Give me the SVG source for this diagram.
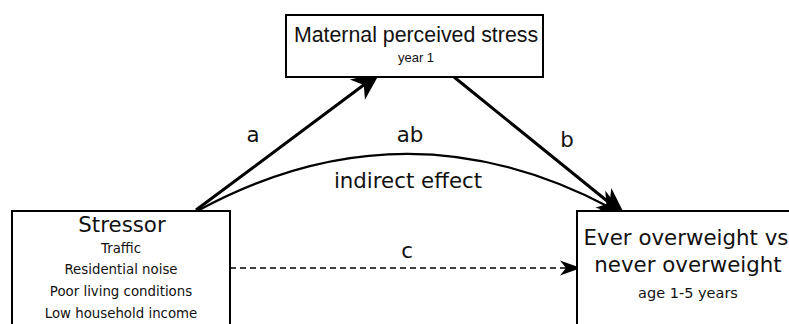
<svg xmlns="http://www.w3.org/2000/svg" width="789" height="324" viewBox="0 0 789 324">
<style>
.box{fill:#fff;stroke:#000;stroke-width:2}
.t{font-family:"DejaVu Sans",sans-serif;fill:#111;text-anchor:middle}
.ta{font-family:"Liberation Sans",Arial,sans-serif;fill:#111;text-anchor:middle}
.ln{fill:none;stroke:#000}
.lab{font-size:21.33px}
.sub{font-size:13.33px}
</style>
<defs>
<marker id="big" markerUnits="userSpaceOnUse" orient="auto" refX="0" refY="0" markerWidth="40" markerHeight="40" viewBox="-15 -15 30 30" overflow="visible">
<path d="M12,0 L-9,-9.5 L-3,0 L-9,9.5 Z" fill="#000"/>
</marker>
<marker id="small" markerUnits="userSpaceOnUse" orient="auto" refX="0" refY="0" markerWidth="30" markerHeight="30" viewBox="-10 -10 20 20" overflow="visible">
<path d="M8,0 L-6,-5 L-2,0 L-6,5 Z" fill="#000"/>
</marker>
</defs>
<g id="connectors">
<path class="ln" d="M196,210 L367,82.5" stroke-width="3" marker-end="url(#big)"/>
<path class="ln" d="M454,77 L612.7,205.5" stroke-width="3" marker-end="url(#big)"/>
<path class="ln" d="M199,210 Q405,99 610,207.5" stroke-width="2.2" marker-end="url(#big)"/>
<path class="ln" d="M230,268 L569,268" stroke-width="1.5" stroke-dasharray="6,4" marker-end="url(#small)"/>
<text class="t lab" x="253" y="142">a</text>
<text class="t lab" x="410" y="142">ab</text>
<text class="t lab" x="567" y="147">b</text>
<text class="t lab" x="408" y="188">indirect effect</text>
<text class="t lab" x="407" y="258">c</text>
</g>
<g id="mediator">
<rect class="box" x="286" y="15" width="257" height="62" stroke-width="1.5"/>
<text class="ta" x="416" y="42" font-size="21.33">Maternal perceived stress</text>
<text class="ta" x="416" y="62" font-size="13">year 1</text>
</g>
<g id="stressor">
<rect class="box" x="12" y="211" width="218" height="130"/>
<text class="t lab" x="122" y="232">Stressor</text>
<text class="t sub" x="121" y="253">Traffic</text>
<text class="t sub" x="121" y="274">Residential noise</text>
<text class="t sub" x="121" y="296">Poor living conditions</text>
<text class="t sub" x="121" y="318">Low household income</text>
</g>
<g id="outcome">
<rect class="box" x="577" y="211" width="230" height="130"/>
<text class="t lab" x="686" y="245">Ever overweight vs</text>
<text class="t lab" x="688" y="272">never overweight</text>
<text class="t" x="688" y="298" font-size="14.5">age 1-5 years</text>
</g>
</svg>
